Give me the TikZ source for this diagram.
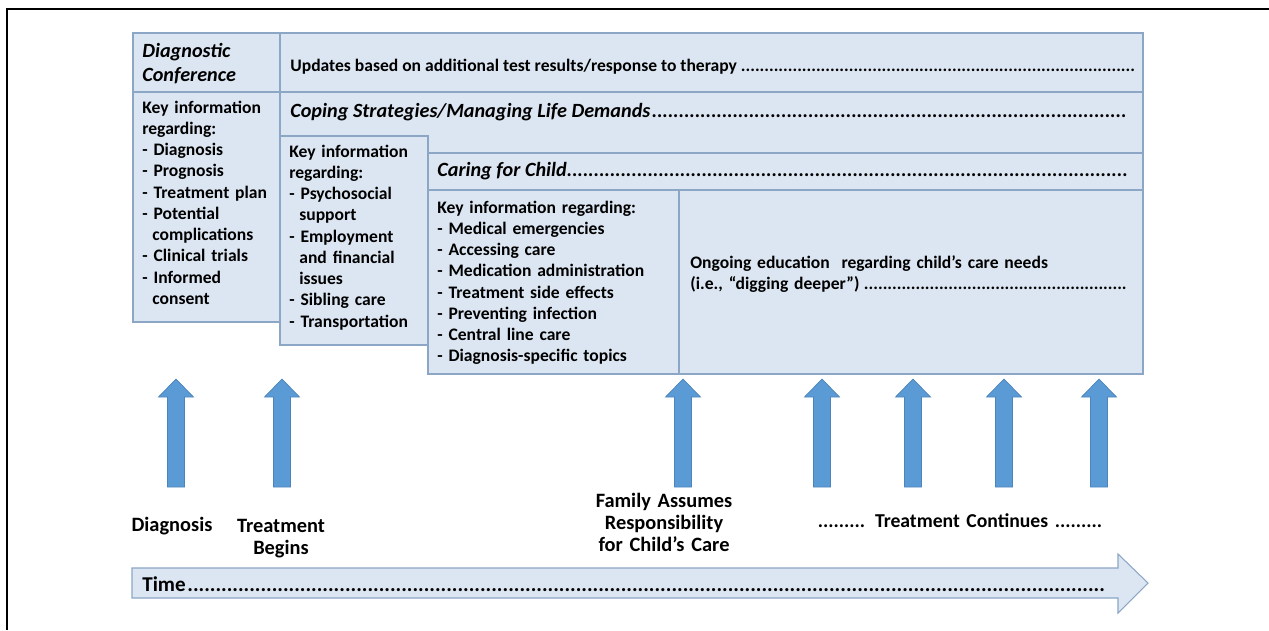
\documentclass[tikz,border=0pt]{standalone}
\usepackage{fontspec}
\setmainfont{Carlito}
\definecolor{boxfill}{RGB}{220,230,242}
\definecolor{boxline}{RGB}{140,166,198}
\definecolor{arrowblue}{RGB}{91,155,213}
\definecolor{arrowline}{RGB}{78,132,188}
\newcommand{\leaderdots}{\leaders\hbox{.}\hfill}
\newcommand{\ind}{\hspace*{0.57em}}
\tikzset{
  panel/.style={fill=boxfill, draw=boxline, line width=0.6pt},
  head/.style={anchor=base west, inner sep=0pt, font=\fontsize{11.5}{14}\selectfont\bfseries\itshape},
  body/.style={anchor=base west, inner sep=0pt, align=left, font=\fontsize{10}{12.1}\selectfont\bfseries},
  event/.style={anchor=base, inner sep=0pt, align=center, text width=3cm, font=\fontsize{11.6}{12.6}\selectfont\bfseries},
  upblock/.style={fill=arrowblue, draw=arrowline, line width=0.4pt}
}
\begin{document}
\begin{tikzpicture}[x=0.02cm, y=-0.02cm]
       \useasboundingbox (0,0) rectangle (1269,630);
       \draw[line width=1.2pt] (7,630) -- (7,9) -- (1269,9);

       %the panels
       \path[panel] (133,33) rectangle (280,92);
       \path[panel] (280,33) rectangle (1143,92);
       \path[panel] (280,92) rectangle (1143,153);
       \path[panel] (133,92) rectangle (280,322);
       \path[panel] (280,136) rectangle (428,345);
       \path[panel] (428,153) rectangle (1143,190);
       \path[panel] (428,190) rectangle (679,374);
       \path[panel] (679,190) rectangle (1143,374);

       \node[head, text width=2.8cm] (diagconf) at (142,57) {Diagnostic\\Conference};
       \node[body, font=\fontsize{10}{12}\selectfont\bfseries] (updates) at (290,71)
            {\hbox to 16.9cm{Updates based on additional test results/response to therapy \leaderdots}};
       \node[head] (coping) at (290,117) {\hbox to 16.74cm{Coping Strategies/Managing Life Demands\leaderdots}};
       \node[head] (caring) at (437,176) {\hbox to 13.86cm{Caring for Child\leaderdots}};

       \node[body, text width=2.8cm] (infoconf) at (142,113)
            {Key information\\regarding:\\- Diagnosis\\- Prognosis\\- Treatment plan\\- Potential\\\ind complications\\- Clinical trials\\- Informed\\\ind consent};
       \node[body, text width=2.8cm] (infocope) at (289,157)
            {Key information\\regarding:\\- Psychosocial\\\ind support\\- Employment\\\ind and financial\\\ind issues\\- Sibling care\\- Transportation};
       \node[body, text width=4.8cm] (infocare) at (437,213)
            {Key information regarding:\\- Medical emergencies\\- Accessing care\\- Medication administration\\- Treatment side effects\\- Preventing infection\\- Central line care\\- Diagnosis-specific topics};
       \node[body, text width=8.9cm] (ongoing) at (690,268)
            {Ongoing education\ \ regarding child’s care needs\\\hbox to 8.8cm{(i.e., “digging deeper”)\leaderdots}};

       %arrows up to the panels
       \foreach \pos in {176,282,683,822,913,1004,1099}
         \path[upblock] (\pos-8.5,487) -- (\pos-8.5,397) -- (\pos-17.5,397) -- (\pos,379)
               -- (\pos+17.5,397) -- (\pos+8.5,397) -- (\pos+8.5,487) -- cycle;

       \node[event] (diagnosis) at (172,531) {Diagnosis};
       \node[event] (txbegins) at (281,532) {Treatment\\Begins};
       \node[event] (family) at (664,507) {Family Assumes\\Responsibility\\for Child’s Care};
       \node[event, text width=6cm, font=\fontsize{11.2}{12.6}\selectfont\bfseries] (txcontinues) at (960,527) {......... Treatment Continues .........};

       %time line
       \path[panel] (132,568) -- (1118,568) -- (1118,554) -- (1148,583) -- (1118,613) -- (1118,598) -- (132,598) -- cycle;
       \node[anchor=base west, inner sep=0pt, font=\fontsize{12}{14}\selectfont\bfseries] (time) at (142,591)
            {\hbox to 19.32cm{Time\leaderdots}};

\end{tikzpicture}
\end{document}
